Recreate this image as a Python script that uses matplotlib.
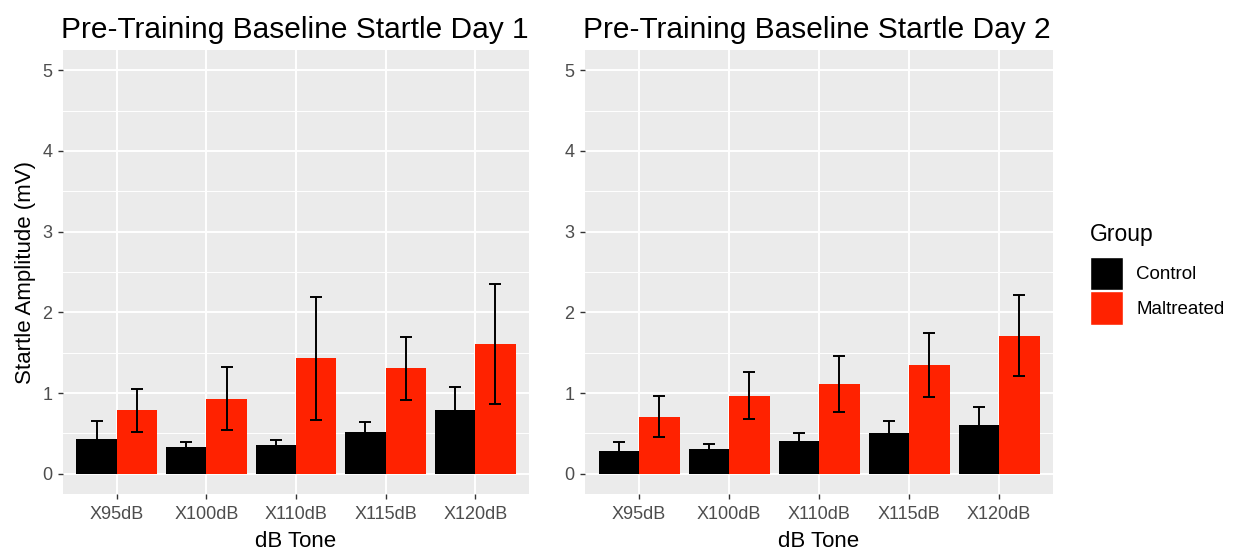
import numpy as np
import matplotlib
matplotlib.use("Agg")
import matplotlib.pyplot as plt
from matplotlib.patches import Patch

plt.rcParams['font.family'] = ['Liberation Sans', 'DejaVu Sans']

# -------------------- data -------------------- #
tones = ["X95dB", "X100dB", "X110dB", "X115dB", "X120dB"]
groups = ["Control", "Maltreated"]

day1_control = [0.43, 0.33, 0.36, 0.52, 0.785]
day1_control_se = [0.22, 0.07, 0.06, 0.12, 0.29]
day1_maltreated = [0.785, 0.93, 1.43, 1.31, 1.61]
day1_maltreated_se = [0.27, 0.39, 0.76, 0.39, 0.745]

day2_control = [0.285, 0.31, 0.405, 0.51, 0.60]
day2_control_se = [0.105, 0.06, 0.105, 0.15, 0.23]
day2_maltreated = [0.71, 0.97, 1.11, 1.35, 1.71]
day2_maltreated_se = [0.26, 0.29, 0.345, 0.40, 0.50]

titles = ["Pre-Training Baseline Startle Day 1", "Pre-Training Baseline Startle Day 2"]

colors = {"Control": "#000000", "Maltreated": "#FF2200"}
bg = "#EBEBEB"
grey_txt = "#4D4D4D"

fig = plt.figure(figsize=(12.43, 5.53), dpi=100)
ax1 = fig.add_axes([63 / 1243, 1 - 494 / 553, 466 / 1243, 444 / 553])
ax2 = fig.add_axes([585 / 1243, 1 - 494 / 553, 468 / 1243, 444 / 553])

panels = [
    (ax1, day1_control, day1_control_se, day1_maltreated, day1_maltreated_se, titles[0]),
    (ax2, day2_control, day2_control_se, day2_maltreated, day2_maltreated_se, titles[1]),
]

x = np.arange(1, len(tones) + 1)
w = 0.45

for i, (ax, c, cse, m, mse, title) in enumerate(panels):
    ax.set_facecolor(bg)
    for s in ax.spines.values():
        s.set_visible(False)
    # grid: minor then major
    for yv in np.arange(0.5, 5.5, 1.0):
        ax.axhline(yv, color="white", lw=0.7, zorder=0)
    for yv in range(0, 6):
        ax.axhline(yv, color="white", lw=1.4, zorder=0)
    for xv in x:
        ax.axvline(xv, color="white", lw=1.4, zorder=0)

    ax.bar(x - w / 2, c, width=w, color=colors["Control"], zorder=2)
    ax.bar(x + w / 2, m, width=w, color=colors["Maltreated"], zorder=2)
    ax.errorbar(x - w / 2, c, yerr=cse, fmt="none", ecolor="black",
                elinewidth=1.4, capsize=4, capthick=1.4, zorder=3)
    ax.errorbar(x + w / 2, m, yerr=mse, fmt="none", ecolor="black",
                elinewidth=1.4, capsize=4, capthick=1.4, zorder=3)

    ax.set_xlim(0.4, 5.6)
    ax.set_ylim(-0.25, 5.25)
    ax.set_xticks(x)
    ax.set_xticklabels(tones)
    ax.set_yticks(range(0, 6))
    ax.tick_params(axis="both", colors="#333333", labelcolor=grey_txt,
                   labelsize=13, length=3.5, width=1, pad=4)
    ax.tick_params(axis="x", pad=5)
    ax.set_xlabel("dB Tone", fontsize=16, color="black", labelpad=6)
    ax.set_title(title, loc="left", fontsize=21.5, color="black", pad=8.5, x=-0.004)
    if i == 0:
        ax.set_ylabel("Startle Amplitude (mV)", fontsize=16, color="black", labelpad=5)

# legend
handles = [Patch(facecolor=colors[g], edgecolor="white", linewidth=1, label=g) for g in groups]
leg = fig.legend(handles=handles, title="Group", loc="upper left",
                 bbox_to_anchor=(1082 / 1243, 1 - 215 / 553), frameon=False,
                 fontsize=13.5, title_fontsize=16.5, handlelength=1.8,
                 handleheight=2.4, labelspacing=0.05, handletextpad=0.7,
                 borderaxespad=0, borderpad=0.4)
leg._legend_box.align = "left"
leg._legend_box.sep = 8  # space between title and keys

fig.savefig("out.png", dpi=100)
